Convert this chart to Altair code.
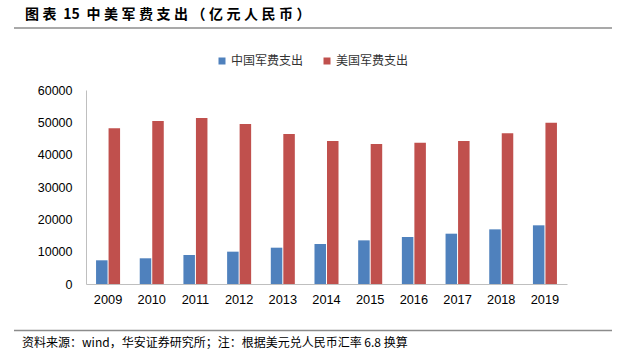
import altair as alt
import pandas as pd

years = ["2009", "2010", "2011", "2012", "2013", "2014", "2015", "2016", "2017", "2018", "2019"]
china = [7330, 7950, 8970, 10000, 11230, 12370, 13500, 14540, 15560, 16900, 18150]
usa = [48150, 50400, 51340, 49480, 46390, 44230, 43300, 43700, 44230, 46600, 49900]
series = ["中国军费支出", "美国军费支出"]
colors = ["#4F81BD", "#C0504D"]
y_ticks = [0, 10000, 20000, 30000, 40000, 50000, 60000]
title_text = "图表 15 中美军费支出（亿元人民币）"
source_text = "资料来源：wind，华安证券研究所；注：根据美元兑人民币汇率 6.8 换算"

rows = []
for i, yv in enumerate(years):
    rows.append({"year": yv, "series": series[0], "value": china[i]})
    rows.append({"year": yv, "series": series[1], "value": usa[i]})
df = pd.DataFrame(rows)

FONT = "Arial, Liberation Sans, Helvetica, sans-serif"
CJK = "Noto Sans CJK SC"


def spaced(s):
    out = s[0]
    for a, b in zip(s, s[1:]):
        if a.isascii() and b.isascii():
            out += b
        else:
            out += "\u2005" + b
    return out


bars = alt.Chart(df).mark_bar().encode(
    x=alt.X("year:N", sort=years,
            scale=alt.Scale(paddingInner=0.45, paddingOuter=0.23),
            axis=alt.Axis(title=None, labelAngle=0, ticks=False, domainColor="#BFBFBF",
                          labelFont=FONT, labelFontSize=12.8, labelColor="#000000",
                          labelPadding=9)),
    xOffset=alt.XOffset("series:N", sort=series, scale=alt.Scale(paddingInner=0.08)),
    y=alt.Y("value:Q",
            scale=alt.Scale(domain=[0, 60000], nice=False),
            axis=alt.Axis(title=None, values=y_ticks, grid=False, ticks=False, format="d",
                          domainColor="#BFBFBF", labelFont=FONT, labelFontSize=12.5,
                          labelColor="#000000", labelPadding=14)),
    color=alt.Color("series:N", sort=series,
                    scale=alt.Scale(domain=series, range=colors),
                    legend=alt.Legend(title=None, orient="none", legendX=130, legendY=-35,
                                      direction="horizontal", symbolType="square",
                                      symbolSize=49, symbolStrokeWidth=0,
                                      labelFont=CJK, labelFontSize=12, labelColor="#333333",
                                      columnPadding=17, labelOffset=3, padding=0)),
)

one = pd.DataFrame({"t": [spaced(title_text)]})
title = alt.Chart(one).mark_text(align="left", baseline="middle", font=CJK,
                                 fontSize=14, fontWeight="bold", color="#000000").encode(
    x=alt.value(-61), y=alt.value(-75), text="t:N")

src = pd.DataFrame({"t": [source_text]})
source = alt.Chart(src).mark_text(align="left", baseline="middle", font=CJK,
                                  fontSize=12, color="#000000").encode(
    x=alt.value(-64), y=alt.value(253), text="t:N")

dummy = pd.DataFrame({"a": [0]})
rule_top = alt.Chart(dummy).mark_rule(color="#8C8C8C", strokeWidth=1.5).encode(
    x=alt.value(-72), x2=alt.value(526), y=alt.value(-62))
rule_bot = alt.Chart(dummy).mark_rule(color="#8C8C8C", strokeWidth=1.5).encode(
    x=alt.value(-72), x2=alt.value(526), y=alt.value(240.5))

chart = alt.layer(bars, title, source, rule_top, rule_bot).properties(
    width=481, height=194,
    autosize=alt.AutoSizeParams(type="none"),
    padding={"left": 86, "top": 90, "right": 52, "bottom": 73},
    background="#FFFFFF",
).configure_view(stroke=None)

chart.save("out.html", embed_options={"renderer": "svg", "actions": False})
